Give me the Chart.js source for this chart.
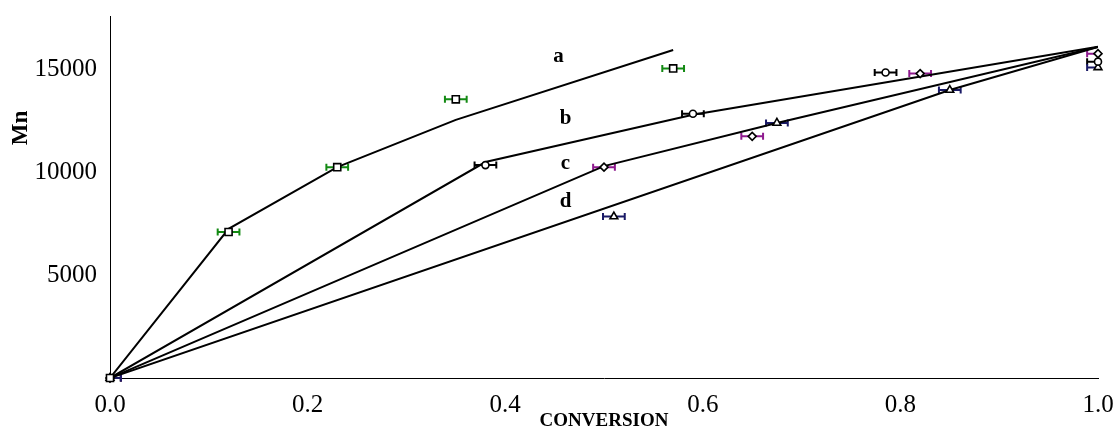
<!DOCTYPE html>
<html>
<head>
<meta charset="utf-8">
<script src="https://cdn.jsdelivr.net/npm/chart.js@4.4.1/dist/chart.umd.min.js"></script>
<style>
  html, body { margin: 0; padding: 0; background: #fff; }
  #wrap { width: 1117px; height: 428px; }
</style>
</head>
<body>
<div id="wrap"><canvas id="mnChart" width="1117" height="428"></canvas></div>
<script>
// model curves (solid black lines)
const modelConvA = [0, 0.12, 0.23, 0.35, 0.57];
const modelMnA   = [0, 7250, 10250, 12550, 15950];
const modelConvB = [0, 0.38, 0.59, 1.0];
const modelMnB   = [0, 10500, 12800, 16100];
const modelConvC = [0, 0.50, 0.675, 1.0];
const modelMnC   = [0, 10300, 12400, 16100];
const modelConvD = [0, 0.85, 1.0];
const modelMnD   = [0, 14000, 16100];

// measured points
const convA = [0, 0.12, 0.23, 0.35, 0.57];
const mnA   = [0, 7100, 10250, 13550, 15050];
const convB = [0, 0.38, 0.59, 0.785, 1.0];
const mnB   = [0, 10350, 12850, 14850, 15380];
const convC = [0, 0.50, 0.65, 0.82, 1.0];
const mnC   = [0, 10250, 11750, 14800, 15770];
const convD = [0, 0.51, 0.675, 0.85, 1.0];
const mnD   = [0, 7850, 12400, 14000, 15100];
const convErr = 0.011;

const curveNames = ['a', 'b', 'c', 'd'];
const xTicks = [0, 0.2, 0.4, 0.6, 0.8, 1.0];
const yTicks = [5000, 10000, 15000];

const serif = '"Liberation Serif", "Times New Roman", serif';
const zip = (xs, ys) => xs.map((v, i) => ({ x: v, y: ys[i] }));

const measured = [
  { conv: convA, mn: mnA, shape: 'rect', radius: 5, bar: '#138a13' },
  { conv: convB, mn: mnB, shape: 'circle', radius: 3.5, bar: '#000000' },
  { conv: convC, mn: mnC, shape: 'rectRot', radius: 4, bar: '#8e1a8e' },
  { conv: convD, mn: mnD, shape: 'triangle', radius: 4.5, bar: '#1a1a66' }
];
const models = [
  [modelConvA, modelMnA], [modelConvB, modelMnB],
  [modelConvC, modelMnC], [modelConvD, modelMnD]
];

// where the curve letters sit, in data units
const namePos = [[0.454, 15630], [0.461, 12600], [0.461, 10420], [0.461, 8570]];

const datasets = [];
measured.forEach((s, i) => {
  datasets.push({
    data: zip(s.conv, s.mn),
    showLine: false,
    pointStyle: s.shape,
    pointRadius: s.radius,
    pointBackgroundColor: '#ffffff',
    pointBorderColor: '#000000',
    pointBorderWidth: 1.6,
    clip: false,
    order: i
  });
});
models.forEach(([xs, ys], i) => {
  datasets.push({
    data: zip(xs, ys),
    showLine: true,
    borderColor: '#000000',
    borderWidth: 2,
    pointRadius: 0,
    tension: 0,
    order: 10 + i
  });
});

const errorBars = {
  id: 'errorBars',
  beforeDatasetsDraw(chart) {
    const { ctx, chartArea: ca, scales: { x, y } } = chart;
    ctx.save();
    ctx.beginPath();
    ctx.rect(ca.left, ca.top - 10, ca.right - ca.left, ca.bottom - ca.top + 20);
    ctx.clip();
    ctx.lineWidth = 2;
    measured.forEach(s => {
      ctx.strokeStyle = s.bar;
      s.conv.forEach((c, i) => {
        const x0 = x.getPixelForValue(c - convErr);
        const x1 = x.getPixelForValue(c + convErr);
        const py = y.getPixelForValue(s.mn[i]);
        ctx.beginPath();
        ctx.moveTo(x0, py); ctx.lineTo(x1, py);
        ctx.moveTo(x0, py - 3.5); ctx.lineTo(x0, py + 3.5);
        ctx.moveTo(x1, py - 3.5); ctx.lineTo(x1, py + 3.5);
        ctx.stroke();
      });
    });
    ctx.restore();
  }
};

const textBits = {
  id: 'textBits',
  afterDraw(chart) {
    const { ctx, chartArea: ca, scales: { x, y } } = chart;
    ctx.save();
    ctx.fillStyle = '#000';
    ctx.textAlign = 'center';
    ctx.textBaseline = 'middle';

    ctx.font = 'bold 21px ' + serif;
    curveNames.forEach((n, i) => {
      ctx.fillText(n, x.getPixelForValue(namePos[i][0]), y.getPixelForValue(namePos[i][1]));
    });

    ctx.font = 'bold 19px ' + serif;
    ctx.fillText('CONVERSION', (ca.left + ca.right) / 2, 421);

    ctx.translate(21, 128);
    ctx.rotate(-Math.PI / 2);
    ctx.font = 'bold 23px ' + serif;
    ctx.fillText('Mn', 0, 0);
    ctx.restore();
  }
};

// keep the plot box fixed: no extra room for half-labels at the ends
const noPad = s => { s.paddingTop = 0; s.paddingBottom = 0; s.paddingLeft = 0; s.paddingRight = 0; };

new Chart(document.getElementById('mnChart'), {
  type: 'scatter',
  data: { datasets },
  options: {
    responsive: false,
    animation: false,
    devicePixelRatio: 1,
    layout: { padding: { top: 16, right: 19, left: 0, bottom: 0 } },
    plugins: { legend: { display: false }, tooltip: { enabled: false } },
    scales: {
      x: {
        type: 'linear',
        min: 0,
        max: 1,
        afterBuildTicks: s => { s.ticks = xTicks.map(v => ({ value: v })); },
        afterFit: s => { s.height = 50; noPad(s); },
        grid: { display: false, drawTicks: false },
        border: { display: true, color: '#000', width: 1 },
        ticks: {
          color: '#000',
          padding: 12,
          maxRotation: 0,
          font: { family: serif, size: 25 },
          callback: v => v.toFixed(1)
        }
      },
      y: {
        type: 'linear',
        min: 0,
        max: 17600,
        afterBuildTicks: s => { s.ticks = yTicks.map(v => ({ value: v })); },
        afterFit: s => { s.width = 110; noPad(s); },
        grid: { display: false, drawTicks: false },
        border: { display: true, color: '#000', width: 1 },
        ticks: {
          color: '#000',
          padding: 13,
          font: { family: serif, size: 25 },
          callback: v => String(v)
        }
      }
    }
  },
  plugins: [errorBars, textBits]
});
</script>
</body>
</html>
